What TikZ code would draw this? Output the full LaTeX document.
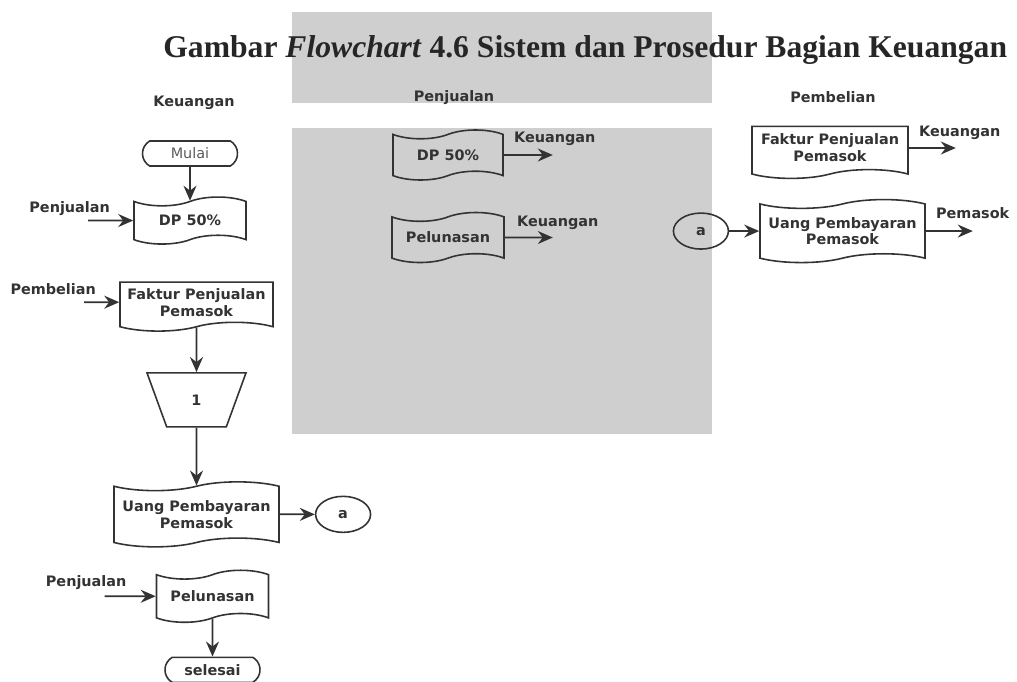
\documentclass[tikz,border=0pt]{standalone}
\usepackage{fontspec}
\setmainfont{Liberation Serif}
\newfontfamily\flowfont{DejaVu Sans}
\usetikzlibrary{arrows.meta,positioning,shapes.geometric,shapes.misc,shapes.symbols}
\definecolor{ink}{HTML}{333333}
\definecolor{wmgray}{RGB}{207,207,207}

\begin{document}
\begin{tikzpicture}[
  x=0.2mm, y=-0.2mm,
  every node/.style={text=ink, font=\flowfont\fontsize{8.2}{9.6}\selectfont\bfseries},
  doc/.style={draw=ink, tape, tape bend height=5pt, line width=0.9pt, inner sep=0pt, align=center},
  docflat/.style={doc, tape bend top=none},
  term/.style={draw=ink, rounded rectangle, rounded rectangle arc length=120, line width=0.9pt, minimum width=19mm, minimum height=5mm, inner sep=0pt},
  conn/.style={draw=ink, ellipse, line width=0.9pt, minimum width=11mm, minimum height=7.2mm, inner sep=0pt},
  store/.style={draw=ink, trapezium, shape border rotate=180, trapezium angle=72.5, trapezium stretches=true, line width=0.9pt, minimum width=19.8mm, minimum height=10.8mm, inner sep=0pt},
  line/.style={draw=ink, line width=1pt},
  flow/.style={line, -{Stealth[length=3mm, width=2.6mm, inset=1mm]}},
  lbl/.style={inner sep=0pt}
]
\useasboundingbox (0,0) rectangle (1017,682);

% --- grey blocks behind the middle column ---
\fill[wmgray] (292,12) rectangle (712,103);
\fill[wmgray] (292,128) rectangle (712,434);

% --- title ---
\node[anchor=base west, inner sep=0pt, text=black!85, font=\fontsize{18}{20}\selectfont\bfseries] (title) at (163,57) {Gambar \textit{Flowchart} 4.6 Sistem dan Prosedur Bagian Keuangan};

% --- Keuangan ---
\node[lbl] (headK) at (194,103) {Keuangan};
\node[term, font=\flowfont\fontsize{8.2}{9.6}\selectfont, text=ink!80] (mulai) at (190,153.5) {Mulai};
\node[doc, minimum width=22.4mm, minimum height=9.4mm, below=6.8mm of mulai] (dpK) {DP 50\%};
\draw[flow] (mulai) -- (dpK);

\coordinate[left=9mm of dpK.west] (inDpK);
\node[lbl, anchor=east, xshift=4.4mm, yshift=2.4mm] (srcDpK) at (inDpK) {Penjualan};
\draw[flow] (inDpK) -- (dpK);

\node[docflat, minimum width=30.6mm, minimum height=9.8mm, below=8.2mm of dpK, xshift=1.3mm] (fakturK) {Faktur Penjualan\\Pemasok};
\coordinate[left=7mm of fakturK.west] (inFakK);
\node[lbl, anchor=east, xshift=2.4mm, yshift=2.6mm] (srcFakK) at (inFakK) {Pembelian};
\draw[flow] (inFakK) -- (fakturK);

\node[store, below=9.8mm of fakturK] (arsip) {1};
\draw[flow] (fakturK) -- (arsip);

\node[doc, minimum width=33mm, minimum height=13mm, below=11.6mm of arsip] (uangK) {Uang Pembayaran\\Pemasok};
\draw[flow] (arsip) -- (uangK);

\node[conn, right=7mm of uangK] (aK) {a};
\draw[flow] (uangK) -- (aK);

\node[doc, minimum width=22.4mm, minimum height=10.4mm, below=6.2mm of uangK, xshift=3.2mm] (lunasK) {Pelunasan};
\coordinate[left=10.2mm of lunasK.west] (inLunK);
\node[lbl, anchor=east, xshift=4.4mm, yshift=2.8mm] (srcLunK) at (inLunK) {Penjualan};
\draw[flow] (inLunK) -- (lunasK);

\node[term, below=7.6mm of lunasK] (selesai) {selesai};
\draw[flow] (lunasK) -- (selesai);

% --- Penjualan ---
\node[lbl] (headP) at (454,98) {Penjualan};
\node[doc, minimum width=22mm, minimum height=10mm] (dpP) at (448,155) {DP 50\%};
\coordinate[right=9.8mm of dpP.east] (outDpP);
\node[lbl, anchor=west, xshift=2mm, yshift=3.2mm] (dstDpP) at (dpP.east) {Keuangan};
\draw[flow] (dpP) -- (outDpP);

\node[doc, minimum width=22.4mm, minimum height=10mm, below=8mm of dpP] (lunasP) {Pelunasan};
\coordinate[right=9.6mm of lunasP.east] (outLunP);
\node[lbl, anchor=west, xshift=2.4mm, yshift=3mm] (dstLunP) at (lunasP.east) {Keuangan};
\draw[flow] (lunasP) -- (outLunP);

% --- Pembelian ---
\node[lbl] (headB) at (833,97) {Pembelian};
\node[docflat, minimum width=31.2mm, minimum height=10.4mm] (fakturP) at (830,148) {Faktur Penjualan\\Pemasok};
\coordinate[right=9.4mm of fakturP.east] (outFakP);
\node[lbl, anchor=west, xshift=2mm, yshift=3mm] (dstFakP) at (fakturP.east) {Keuangan};
\draw[flow] (fakturP) -- (outFakP);

\node[doc, minimum width=33mm, minimum height=12.6mm, below=6.6mm of fakturP, xshift=2.5mm] (uangP) {Uang Pembayaran\\Pemasok};
\node[conn, left=6mm of uangP] (aP) {a};
\draw[flow] (aP) -- (uangP);
\coordinate[right=9.4mm of uangP.east] (outUangP);
\node[lbl, anchor=west, xshift=2mm, yshift=3.6mm] (dstUangP) at (uangP.east) {Pemasok};
\draw[flow] (uangP) -- (outUangP);

\end{tikzpicture}
\end{document}
